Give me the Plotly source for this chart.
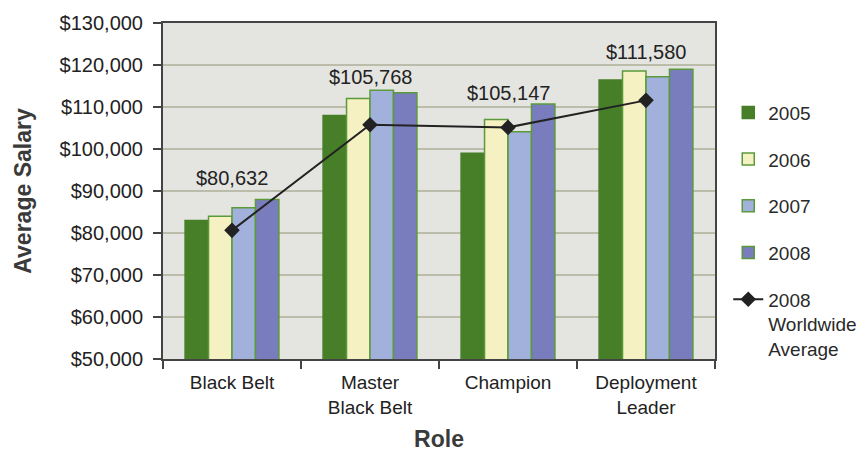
import plotly.graph_objects as go

roles = ["Black Belt", "Master<br>Black Belt", "Champion", "Deployment<br>Leader"]
years = ["2005", "2006", "2007", "2008"]
salary_2005 = [83000, 108000, 99000, 116400]
salary_2006 = [84000, 112000, 107000, 118600]
salary_2007 = [86000, 114000, 104100, 117200]
salary_2008 = [88000, 113400, 110700, 119000]
worldwide_2008 = [80632, 105768, 105147, 111580]
worldwide_labels = ["$80,632", "$105,768", "$105,147", "$111,580"]
y_ticks = [50000, 60000, 70000, 80000, 90000, 100000, 110000, 120000, 130000]

series = [salary_2005, salary_2006, salary_2007, salary_2008]
fills = ["#477f29", "#f6f1c3", "#a2b1dc", "#7a7dbd"]
outline = "#5a9a3a"
label_shift = [21, 13, 11, 17]

font_family = "Liberation Sans, Arial, sans-serif"
fig = go.Figure()
for i, (yr, vals) in enumerate(zip(years, series)):
    fig.add_trace(go.Bar(
        x=roles, y=vals, name=yr, legendgroup=yr,
        marker=dict(color=fills[i], line=dict(color=outline if i else fills[0], width=1.5)),
    ))
fig.add_trace(go.Scatter(
    x=roles, y=worldwide_2008, name="2008<br>Worldwide<br>Average", legendgroup="ww",
    mode="lines+markers",
    line=dict(color="#222222", width=2),
    marker=dict(symbol="diamond", size=12, color="#222222"),
))

for r, lab, shift, *vals in zip(roles, worldwide_labels, label_shift, *series):
    fig.add_annotation(x=r, y=max(vals), text=lab, showarrow=False,
                       yanchor="middle", yshift=shift,
                       font=dict(size=20, color="#222222", family=font_family))

fig.update_layout(
    width=864, height=454,
    margin=dict(l=163, r=149, t=23, b=95, autoexpand=False),
    paper_bgcolor="white", plot_bgcolor="#e4e4e0",
    barmode="group", bargap=0.32, bargroupgap=0,
    font=dict(family=font_family, color="#2a2a2a"),
    legend=dict(x=1.024, xanchor="left", y=0.79, yanchor="top",
                font=dict(size=19, color="#2a2a2a"), tracegroupgap=19,
                valign="top", bgcolor="rgba(0,0,0,0)"),
    showlegend=True,
)
fig.update_yaxes(
    range=[50000, 130000], tickvals=y_ticks,
    ticktext=[f"${v:,}" for v in y_ticks],
    tickfont=dict(size=20, color="#222222"), ticks="outside", ticklen=8, tickwidth=2, tickcolor="#444",
    ticklabelstandoff=6,
    showgrid=True, gridcolor="#bcbcaa", gridwidth=2,
    showline=True, linecolor="#444", linewidth=2, mirror=True, zeroline=False,
    automargin=False,
    title=dict(text="<b>Average Salary</b>", font=dict(size=23, color="#3a3a3a"), standoff=22),
)
fig.update_xaxes(
    tickfont=dict(size=19, color="#222222"), ticks="outside", tickson="boundaries", ticklen=8,
    tickwidth=2, tickcolor="#444", ticklabelstandoff=5,
    showline=True, linecolor="#444", linewidth=2, mirror=True,
    automargin=False,
    title=dict(text="<b>Role</b>", font=dict(size=23, color="#3a3a3a"), standoff=14),
)
fig.write_html("out.html", config={"displayModeBar": False},
               post_script="document.body.style.margin='0';")
